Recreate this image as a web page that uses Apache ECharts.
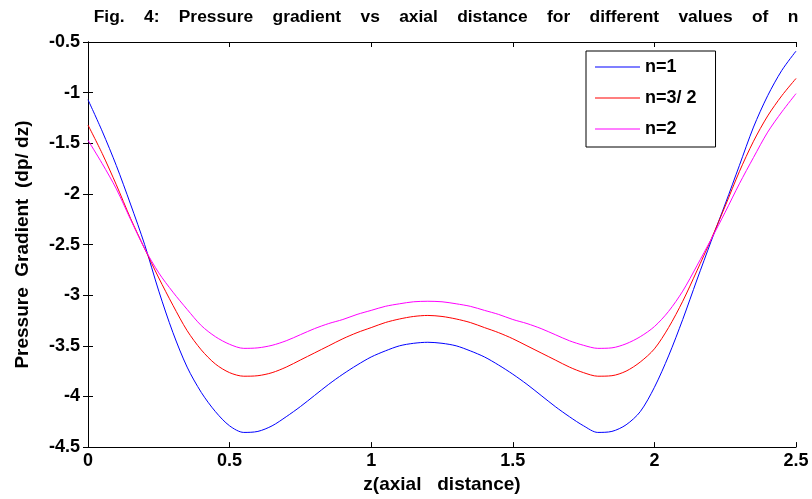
<!DOCTYPE html>
<html>
<head>
<meta charset="utf-8">
<script src="https://cdn.jsdelivr.net/npm/echarts@6/dist/echarts.min.js"></script>
<style>
  html, body { margin: 0; padding: 0; background: #fff; }
  #chart { width: 812px; height: 499px; }
</style>
</head>
<body>
<div id="chart"></div>
<script>
// axial distance z
const zValues = [0, 0.05, 0.1, 0.15, 0.2, 0.25, 0.3, 0.35, 0.4, 0.45, 0.5, 0.55, 0.6, 0.65, 0.7, 0.75,
  0.8, 0.85, 0.9, 0.95, 1.0, 1.05, 1.1, 1.15, 1.2, 1.25, 1.3, 1.35, 1.4, 1.45, 1.5, 1.55, 1.6, 1.65,
  1.7, 1.75, 1.8, 1.85, 1.9, 1.95, 2.0, 2.05, 2.1, 2.15, 2.2, 2.25, 2.3, 2.35, 2.4, 2.45, 2.5];

// dp/dz for each n
const n1 = [-1.07, -1.38, -1.72, -2.10, -2.50, -2.96, -3.37, -3.71, -3.96, -4.15, -4.29, -4.355, -4.345,
  -4.29, -4.20, -4.10, -3.99, -3.88, -3.78, -3.69, -3.61, -3.55, -3.50, -3.475, -3.465, -3.475, -3.50,
  -3.55, -3.61, -3.69, -3.78, -3.88, -3.99, -4.10, -4.20, -4.29, -4.355, -4.345, -4.28, -4.15, -3.91,
  -3.60, -3.24, -2.85, -2.47, -2.10, -1.72, -1.34, -1.03, -0.78, -0.59];
const n32 = [-1.32, -1.60, -1.91, -2.24, -2.54, -2.83, -3.10, -3.35, -3.54, -3.68, -3.765, -3.80, -3.795,
  -3.765, -3.71, -3.64, -3.57, -3.50, -3.43, -3.37, -3.32, -3.27, -3.235, -3.21, -3.20, -3.21, -3.235,
  -3.27, -3.32, -3.37, -3.43, -3.50, -3.57, -3.64, -3.71, -3.765, -3.80, -3.795, -3.75, -3.66, -3.53,
  -3.32, -3.06, -2.76, -2.45, -2.12, -1.78, -1.48, -1.23, -1.03, -0.86];
const n2 = [-1.47, -1.70, -1.95, -2.25, -2.54, -2.78, -2.97, -3.14, -3.30, -3.41, -3.485, -3.525, -3.52,
  -3.495, -3.45, -3.39, -3.33, -3.28, -3.24, -3.19, -3.15, -3.11, -3.085, -3.065, -3.06, -3.065, -3.085,
  -3.11, -3.15, -3.19, -3.24, -3.28, -3.33, -3.39, -3.45, -3.495, -3.525, -3.52, -3.48, -3.41, -3.31,
  -3.16, -2.96, -2.71, -2.45, -2.18, -1.90, -1.64, -1.39, -1.19, -1.01];

const seriesNames = ['n=1', 'n=3/ 2', 'n=2'];
const seriesColors = ['#0000ff', '#ff0000', '#ff00ff'];

const pairs = arr => zValues.map((z, i) => [z, arr[i]]);

const chart = echarts.init(document.getElementById('chart'));

const font = 'Arial, Liberation Sans, sans-serif';
const labelStyle = { color: '#000', fontWeight: 'bold', fontSize: 18, fontFamily: font };
const nameStyle = { color: '#000', fontWeight: 'bold', fontSize: 19, fontFamily: font };
const boxAxisLine = { show: true, lineStyle: { color: '#000', width: 1 } };
const inTick = { show: true, inside: true, length: 5, lineStyle: { color: '#000' } };

const option = {
  backgroundColor: '#fff',
  animation: false,
  title: {
    text: 'Fig.    4:    Pressure    gradient    vs    axial    distance    for    different    values    of    n',
    left: 446,
    textAlign: 'center',
    top: 9,
    padding: 0,
    textStyle: { color: '#000', fontWeight: 'bold', fontSize: 17.4, fontFamily: font }
  },
  grid: { left: 88, right: 16, top: 42, bottom: 50 },
  legend: {
    orient: 'vertical',
    left: 586,
    top: 51,
    padding: [7, 19, 9, 9],
    itemGap: 13,
    itemWidth: 45,
    itemHeight: 1,
    icon: 'rect',
    borderColor: '#000',
    borderWidth: 1,
    borderRadius: 0,
    backgroundColor: '#fff',
    textStyle: labelStyle,
    data: seriesNames
  },
  xAxis: [{
    type: 'value', min: 0, max: 2.5, interval: 0.5,
    name: 'z(axial   distance)', nameLocation: 'middle', nameGap: 27,
    nameTextStyle: nameStyle,
    axisLine: boxAxisLine, axisTick: inTick,
    axisLabel: Object.assign({ margin: 5 }, labelStyle),
    splitLine: { show: false }
  }, {
    type: 'value', min: 0, max: 2.5, interval: 0.5, position: 'top',
    axisLine: boxAxisLine, axisTick: inTick, axisLabel: { show: false }, splitLine: { show: false }
  }],
  yAxis: [{
    type: 'value', min: -4.5, max: -0.5, interval: 0.5,
    name: 'Pressure  Gradient  (dp/ dz)', nameLocation: 'middle', nameGap: 56,
    nameTextStyle: nameStyle,
    axisLine: boxAxisLine, axisTick: inTick,
    axisLabel: Object.assign({ margin: 8 }, labelStyle),
    splitLine: { show: false }
  }, {
    type: 'value', min: -4.5, max: -0.5, interval: 0.5, position: 'right',
    axisLine: boxAxisLine, axisTick: inTick, axisLabel: { show: false }, splitLine: { show: false }
  }],
  series: [n1, n32, n2].map((arr, i) => ({
    name: seriesNames[i],
    type: 'line',
    data: pairs(arr),
    symbol: 'none',
    smooth: 0.3,
    color: seriesColors[i],
    lineStyle: { width: 1, color: seriesColors[i] }
  }))
};

chart.setOption(option);
</script>
</body>
</html>
